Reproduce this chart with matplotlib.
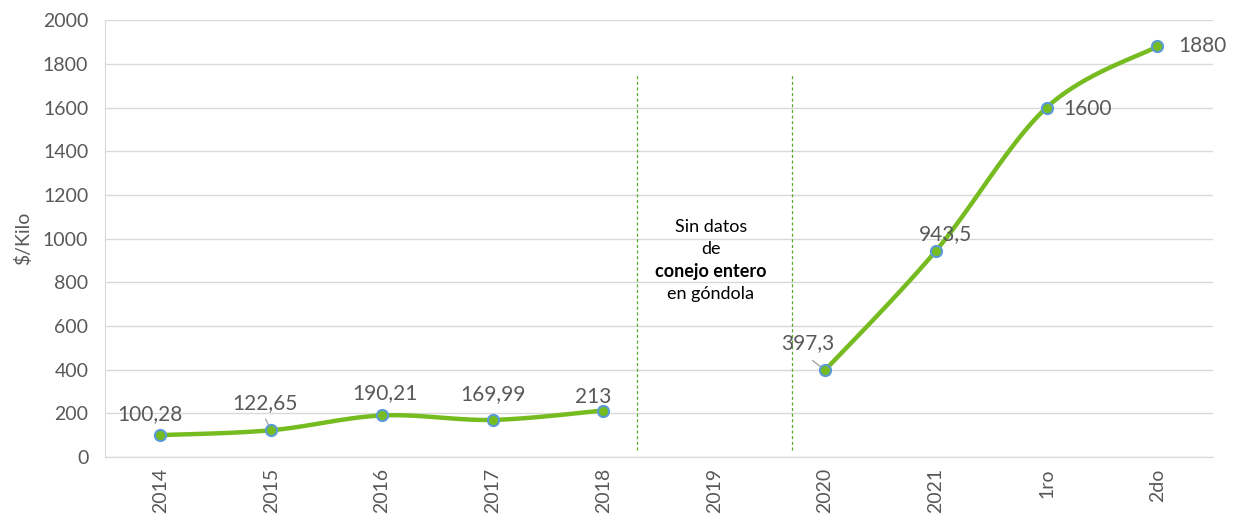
import numpy as np
import matplotlib.pyplot as plt

categorias = ["2014", "2015", "2016", "2017", "2018", "2019", "2020", "2021", "1ro", "2do"]
precios = [100.28, 122.65, 190.21, 169.99, 213, None, 397.3, 943.5, 1600, 1880]
etiquetas = ["100,28", "122,65", "190,21", "169,99", "213", "", "397,3", "943,5", "1600", "1880"]

verde = "#76bc21"
azul = "#5b9bd5"
gris = "#595959"

plt.rcParams['font.family'] = ['Lato', 'DejaVu Sans']


def catmull_rom(xs, ys, n=30):
    # curva suavizada tipo Excel
    px = [xs[0]] + list(xs) + [xs[-1]]
    py = [ys[0]] + list(ys) + [ys[-1]]
    out_x, out_y = [], []
    t = np.linspace(0, 1, n)
    for i in range(1, len(px) - 2):
        for arr, p in ((out_x, px), (out_y, py)):
            p0, p1, p2, p3 = p[i - 1], p[i], p[i + 1], p[i + 2]
            arr.extend(0.5 * (2 * p1 + (-p0 + p2) * t
                              + (2 * p0 - 5 * p1 + 4 * p2 - p3) * t ** 2
                              + (-p0 + 3 * p1 - 3 * p2 + p3) * t ** 3))
    return out_x, out_y


fig, ax = plt.subplots(figsize=(12.35, 5.17), dpi=100)
fig.subplots_adjust(left=0.085, right=0.982, top=0.961, bottom=0.116)

x = np.arange(len(categorias))
tramos = [[0, 1, 2, 3, 4], [6, 7, 8, 9]]
for tramo in tramos:
    xs = [x[i] for i in tramo]
    ys = [precios[i] for i in tramo]
    cx, cy = catmull_rom(xs, ys)
    ax.plot(cx, cy, color=verde, lw=3.2, zorder=3, solid_capstyle='round')
    ax.plot(xs, ys, 'o', ms=8, mfc=verde, mec=azul, mew=1.5, zorder=4)

# posiciones de etiquetas (desplazamiento en pixeles)
offsets = {0: (-10, 21), 1: (-6, 27), 2: (3, 22), 3: (0, 26), 4: (-10, 14),
           6: (-17, 27), 7: (10, 17), 8: (41, -1), 9: (45, 0)}
for i, (dx, dy) in offsets.items():
    ax.annotate(etiquetas[i], (x[i], precios[i]), xytext=(dx * 0.72, dy * 0.72),
                textcoords='offset points', ha='center', va='center',
                fontsize=15, color=gris, zorder=5)
# lineas guia
ax.annotate("", (x[1], precios[1]), xytext=(-4, 8), textcoords='offset points',
            arrowprops=dict(arrowstyle='-', color='#a6a6a6', lw=1, shrinkA=0, shrinkB=3))
ax.annotate("", (x[6], precios[6]), xytext=(-9, 7), textcoords='offset points',
            arrowprops=dict(arrowstyle='-', color='#a6a6a6', lw=1, shrinkA=0, shrinkB=3))

ax.vlines([4.30, 5.70], 32, 1748, colors='#5aab2a', linestyles=(0, (2.5, 2)), lw=0.9)
ax.text(4.97, 1053, "Sin datos", ha='center', va='center', fontsize=13, color='black')
ax.text(4.97, 952, "de", ha='center', va='center', fontsize=13, color='black')
ax.text(4.97, 851, "conejo entero", ha='center', va='center', fontsize=13,
        color='black', fontweight='bold')
ax.text(4.97, 746, "en góndola", ha='center', va='center', fontsize=13, color='black')

ax.set_xlim(-0.5, 9.5)
ax.set_ylim(0, 2000)
ax.set_yticks(range(0, 2001, 200))
ax.set_xticks(x)
ax.set_xticklabels(categorias, rotation=90)
ax.tick_params(axis='both', labelsize=14, colors=gris, length=0)
ax.tick_params(axis='x', pad=8)
ax.tick_params(axis='y', pad=12)
ax.grid(axis='y', color='#d9d9d9', lw=1)
ax.set_axisbelow(True)
for s in ['top', 'right']:
    ax.spines[s].set_visible(False)
ax.spines['left'].set_color('#d9d9d9')
ax.spines['bottom'].set_color('#d9d9d9')
ax.set_ylabel("$/Kilo", fontsize=14, color=gris, labelpad=8)

fig.savefig("out.png", dpi=100)
